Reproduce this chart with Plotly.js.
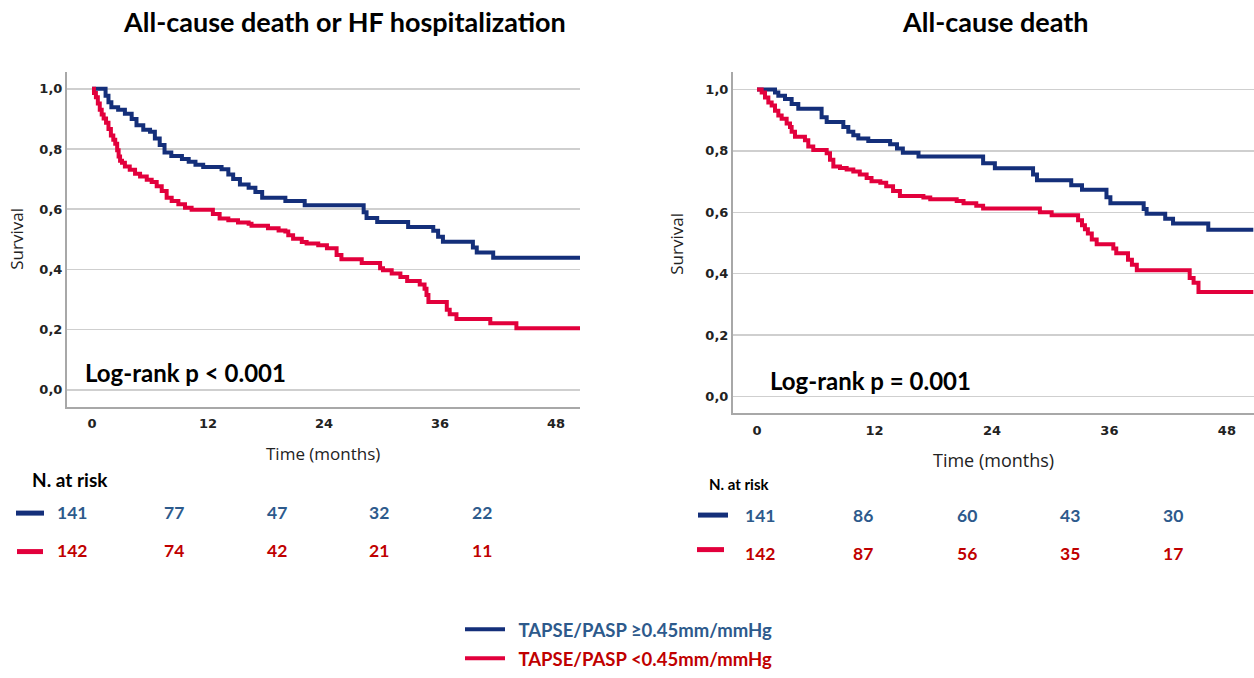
<!DOCTYPE html>
<html>
<head>
<meta charset="utf-8">
<script src="https://cdn.plot.ly/plotly-3.0.1.min.js"></script>
<style>
html,body{margin:0;padding:0;background:#fff;overflow:hidden;}
#chart{width:1254px;height:678px;overflow:hidden;}
</style>
</head>
<body>
<div id="chart"></div>
<script>
// ---------- DATA ----------
const panelTitles = ["All-cause death or HF hospitalization", "All-cause death"];
const groupNames = ["TAPSE/PASP ≥0.45mm/mmHg", "TAPSE/PASP <0.45mm/mmHg"];
const timeTicks = [0, 12, 24, 36, 48];
const survTicks = [0, 0.2, 0.4, 0.6, 0.8, 1.0];
const logRankText = ["Log-rank p < 0.001", "Log-rank p = 0.001"];

// Panel 1: All-cause death or HF hospitalization
const p1HighTime = [0, 1.4, 1.7, 2.0, 2.7, 3.4, 4.1, 4.6, 5.3, 6.0, 6.5, 7.0, 7.5, 8.2, 9.3, 10.0, 10.7, 11.5, 13.4, 14.1, 14.6, 15.3, 16.2, 16.9, 17.6, 20.0, 22.0, 28.1, 28.4, 29.5, 32.7, 35.3, 35.8, 36.3, 39.4, 39.8, 41.5, 50.5];
const p1HighSurv = [1.0, 0.977, 0.955, 0.939, 0.930, 0.917, 0.900, 0.879, 0.864, 0.857, 0.835, 0.813, 0.788, 0.777, 0.767, 0.758, 0.748, 0.740, 0.733, 0.715, 0.700, 0.682, 0.671, 0.657, 0.638, 0.627, 0.613, 0.590, 0.571, 0.557, 0.541, 0.528, 0.508, 0.492, 0.473, 0.456, 0.439, 0.439];
const p1LowTime = [0, 0.2, 0.4, 0.6, 0.8, 1.0, 1.2, 1.45, 1.7, 1.95, 2.2, 2.4, 2.6, 2.75, 2.9, 3.1, 3.4, 3.9, 4.45, 4.97, 5.66, 6.17, 6.69, 7.21, 7.72, 8.24, 8.93, 9.62, 10.3, 12.5, 13.2, 14.1, 15.1, 16.2, 16.5, 18.2, 19.3, 20.0, 20.3, 20.8, 21.7, 22.2, 23.4, 24.3, 25.3, 25.8, 27.9, 29.8, 30.1, 31.0, 31.9, 32.6, 33.9, 34.4, 34.6, 34.8, 36.7, 37.0, 37.7, 41.2, 43.9, 50.5];
const p1LowSurv = [1.0, 0.986, 0.972, 0.951, 0.930, 0.915, 0.901, 0.887, 0.866, 0.845, 0.831, 0.817, 0.796, 0.775, 0.761, 0.754, 0.742, 0.731, 0.718, 0.709, 0.698, 0.690, 0.676, 0.660, 0.638, 0.627, 0.616, 0.605, 0.598, 0.584, 0.569, 0.563, 0.556, 0.552, 0.545, 0.537, 0.529, 0.526, 0.513, 0.502, 0.491, 0.486, 0.480, 0.470, 0.448, 0.434, 0.421, 0.404, 0.397, 0.386, 0.375, 0.361, 0.350, 0.336, 0.315, 0.292, 0.266, 0.251, 0.235, 0.221, 0.204, 0.204];

// Panel 2: All-cause death
const p2HighTime = [0, 1.84, 2.18, 2.86, 3.54, 4.22, 6.6, 7.12, 8.82, 9.33, 9.84, 10.35, 11.37, 13.6, 14.3, 14.9, 16.5, 23.1, 24.3, 28.2, 28.6, 32.1, 33.2, 35.7, 36.1, 39.5, 39.8, 41.7, 42.5, 46.1, 50.7];
const p2HighSurv = [1.0, 0.990, 0.980, 0.969, 0.953, 0.937, 0.910, 0.894, 0.878, 0.862, 0.851, 0.840, 0.832, 0.822, 0.808, 0.794, 0.782, 0.760, 0.743, 0.723, 0.704, 0.688, 0.673, 0.649, 0.629, 0.611, 0.595, 0.579, 0.563, 0.543, 0.543];
const p2LowTime = [0, 0.48, 0.82, 1.16, 1.5, 1.84, 2.18, 2.52, 3.03, 3.37, 3.54, 3.88, 4.9, 5.24, 5.75, 7.12, 7.46, 7.8, 8.48, 9.16, 9.84, 10.5, 11.2, 11.7, 12.6, 13.2, 13.9, 14.6, 17.0, 17.7, 20.4, 21.1, 22.4, 23.1, 28.9, 30.1, 32.8, 33.2, 33.5, 33.8, 34.2, 34.7, 36.4, 36.7, 37.9, 38.3, 38.8, 44.2, 44.6, 45.1, 50.7];
const p2LowSurv = [1.0, 0.990, 0.974, 0.958, 0.948, 0.931, 0.915, 0.905, 0.889, 0.878, 0.862, 0.846, 0.835, 0.814, 0.803, 0.792, 0.771, 0.749, 0.744, 0.739, 0.733, 0.723, 0.712, 0.701, 0.696, 0.685, 0.669, 0.653, 0.648, 0.642, 0.637, 0.629, 0.621, 0.612, 0.600, 0.590, 0.574, 0.558, 0.545, 0.531, 0.511, 0.496, 0.482, 0.466, 0.445, 0.429, 0.411, 0.386, 0.370, 0.340, 0.340];

// Number at risk
const riskLabel = "N. at risk";
const p1RiskHigh = [141, 77, 47, 32, 22];
const p1RiskLow = [142, 74, 42, 21, 11];
const p2RiskHigh = [141, 86, 60, 43, 30];
const p2RiskLow = [142, 87, 56, 35, 17];

// ---------- STYLE ----------
const W = 1254, H = 678;
const px = x => x / W;
const py = y => 1 - y / H;
const BLUE = "#142f7a", RED = "#e2003c";
const BLUE_TXT = "#2d5a8c", RED_TXT = "#c00000";
const LATO = "Lato, 'Open Sans', sans-serif";

function km(t, s, color, name, xa, ya, showleg, group) {
  return {
    x: t, y: s, type: "scatter", mode: "lines",
    line: {shape: "hv", color: color, width: 4},
    name: name, xaxis: xa, yaxis: ya, showlegend: showleg, legendgroup: group,
    hoverinfo: "x+y"
  };
}

const data = [
  km(p1HighTime, p1HighSurv, BLUE, '&nbsp;&nbsp;<span style="color:' + BLUE_TXT + '">' + groupNames[0] + '</span>', "x", "y", true, "g1"),
  km(p1LowTime, p1LowSurv, RED, '&nbsp;&nbsp;<span style="color:' + RED_TXT + '">' + groupNames[1] + '</span>', "x", "y", true, "g2"),
  km(p2HighTime, p2HighSurv, BLUE, groupNames[0], "x2", "y2", false, "g1"),
  km(p2LowTime, p2LowSurv, RED, groupNames[1], "x2", "y2", false, "g2")
];

const tickFont = {family: "'DejaVu Sans', Verdana, sans-serif", size: 13, color: "#222", weight: "bold"};
function xax(domain, range, anchor) {
  return {domain: domain, range: range, anchor: anchor, tickvals: timeTicks, showgrid: false, zeroline: false,
    showline: true, linecolor: "#a8a8a8", linewidth: 2, ticks: "outside", ticklen: 4, tickcolor: "rgba(0,0,0,0)",
    tickfont: tickFont, fixedrange: true};
}
function yax(domain, range, anchor) {
  return {domain: domain, range: range, anchor: anchor, tickvals: survTicks, tickformat: ".1f", showgrid: true,
    gridcolor: "#cfcfcf", gridwidth: 1.5, zeroline: false, showline: true, linecolor: "#a8a8a8", linewidth: 2,
    ticks: "", tickfont: tickFont, fixedrange: true};
}

const annotations = [];
function ann(text, x, y, opts) {
  annotations.push(Object.assign({text: text, x: px(x), y: py(y), xref: "paper", yref: "paper", showarrow: false,
    xanchor: "center", yanchor: "middle"}, opts));
}
// titles
ann("<b>" + panelTitles[0] + "</b>", 344, 22, {font: {family: LATO, size: 27, color: "#000"}});
ann("<b>" + panelTitles[1] + "</b>", 995, 22, {font: {family: LATO, size: 27, color: "#000"}});
// axis titles
const axFont = {family: "'Open Sans', sans-serif", size: 17, color: "#222"};
ann("Survival", 17, 242, {textangle: -90, font: axFont});
ann("Survival", 677, 247, {textangle: -90, font: axFont});
ann("Time (months)", 323, 460, {font: axFont});
ann("Time (months)", 993, 466, {font: Object.assign({}, axFont, {size: 18})});
// log-rank
ann("<b>" + logRankText[0] + "</b>", 83, 378, {xanchor: "left", font: {family: LATO, size: 24, color: "#000"}});
ann("<b>" + logRankText[1] + "</b>", 768, 386, {xanchor: "left", font: {family: LATO, size: 24, color: "#000"}});
// number at risk tables
ann("<b>" + riskLabel + "</b>", 30, 486, {xanchor: "left", font: {family: LATO, size: 19, color: "#000"}});
ann("<b>" + riskLabel + "</b>", 707, 491, {xanchor: "left", font: {family: LATO, size: 15, color: "#000"}});
const p1Cols = [72, 174, 277, 379, 482];
const p2Cols = [760, 863, 967, 1070, 1173];
const numFont = c => ({family: LATO, size: 17.5, color: c});
p1RiskHigh.forEach((v, i) => ann("<b>" + v + "</b>", p1Cols[i], 519, {font: numFont(BLUE_TXT)}));
p1RiskLow.forEach((v, i) => ann("<b>" + v + "</b>", p1Cols[i], 558, {font: numFont(RED_TXT)}));
p2RiskHigh.forEach((v, i) => ann("<b>" + v + "</b>", p2Cols[i], 522, {font: numFont(BLUE_TXT)}));
p2RiskLow.forEach((v, i) => ann("<b>" + v + "</b>", p2Cols[i], 561, {font: numFont(RED_TXT)}));

function swatch(x0, x1, y, color) {
  return {type: "line", xref: "paper", yref: "paper", x0: px(x0), x1: px(x1), y0: py(y), y1: py(y),
    line: {color: color, width: 5}};
}
const shapes = [
  swatch(16, 44, 520, BLUE), swatch(17, 43, 559, RED),
  swatch(698, 728, 522, BLUE), swatch(697, 724, 557, RED)
];

const layout = {
  width: W, height: H, margin: {l: 0, r: 0, t: 0, b: 0},
  paper_bgcolor: "#fff", plot_bgcolor: "#fff", separators: ", ",
  xaxis: xax([px(67), px(580)], [-2.59, 50.48], "y"),
  yaxis: yax([py(412), py(73)], [-0.0557, 1.0557], "x"),
  xaxis2: xax([px(733), 1], [-2.45, 50.77], "y2"),
  yaxis2: yax([py(419), py(73)], [-0.0557, 1.057], "x2"),
  showlegend: true,
  legend: {x: px(460), y: py(619), xanchor: "left", yanchor: "top", bgcolor: "rgba(0,0,0,0)",
    font: {family: LATO, size: 18.5, weight: "bold"}, traceorder: "grouped", tracegroupgap: 2, itemwidth: 40},
  annotations: annotations, shapes: shapes
};

Plotly.newPlot("chart", data, layout, {displayModeBar: false, staticPlot: true});
</script>
</body>
</html>
